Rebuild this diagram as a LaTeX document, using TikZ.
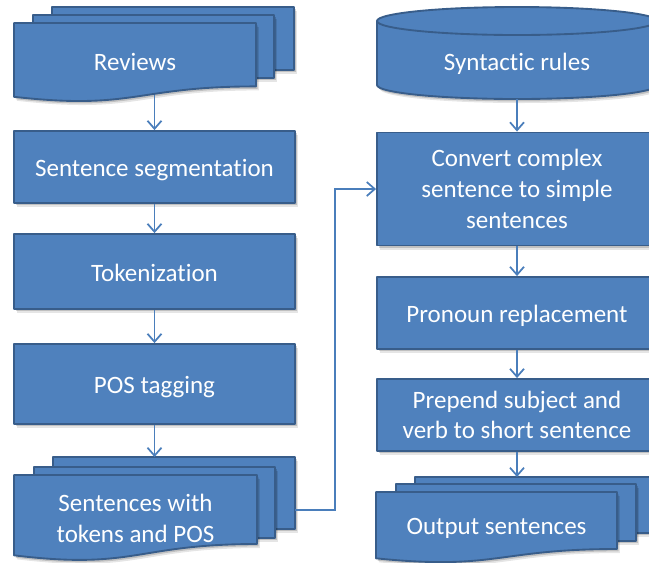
\documentclass[tikz,border=0pt]{standalone}
\usepackage{fontspec}
\setmainfont{Carlito}[Ligatures={CommonOff,ContextualOff}]
\usetikzlibrary{arrows.meta,shadows}
\definecolor{boxfill}{HTML}{4F81BD}
\definecolor{boxline}{HTML}{385D8A}
\definecolor{linkblue}{HTML}{4A7EBB}

\begin{document}
\begin{tikzpicture}[x=0.75pt,y=-0.75pt,
  softshadow/.style={
    drop shadow={shadow xshift=1.2pt,shadow yshift=-1.8pt,opacity=0.16,fill=black},
    drop shadow={shadow xshift=2.2pt,shadow yshift=-3pt,opacity=0.10,fill=black}},
  sheet/.style={draw=boxline,line width=1.4pt,fill=boxfill,line join=round,softshadow},
  rim/.style={draw=boxline,line width=1.4pt},
  txt/.style={text=white,align=center,font=\fontsize{18.75pt}{23pt}\selectfont},
  lbl/.style={txt,inner sep=0pt},
  procbox/.style={sheet,txt,inner sep=0pt},
  oneline/.style={text height=16pt,text depth=1.5pt},
  link/.style={draw=linkblue,line width=1.3pt,-{Straight Barb[length=6pt,width=10.5pt]}}]
\useasboundingbox (0,0) rectangle (649,562);
\clip (0,0) rectangle (649,562);

% input reviews (stack of documents)
\path[sheet] (52,7) rectangle (294,70);
\path[sheet] (33,15) rectangle (274,78);
\path[sheet] (14,23) -- (256,23) -- (256,86.4)
  .. controls (135,86.4) and (135,110.5) .. (14,96.8) -- cycle;
\node[lbl] (reviews) at (135,62) {Reviews};
\coordinate (reviewsout) at (154.5,95);

% rule base (cylinder)
\path[sheet] (377,21) -- (377,85)
  .. controls (377,92.7) and (439.7,99) .. (517,99)
  .. controls (594.3,99) and (657,92.7) .. (657,85) -- (657,21)
  .. controls (657,13.3) and (594.3,7) .. (517,7)
  .. controls (439.7,7) and (377,13.3) .. (377,21) -- cycle;
\draw[rim] (377,21) .. controls (377,28.7) and (439.7,35) .. (517,35)
  .. controls (594.3,35) and (657,28.7) .. (657,21);
\node[lbl] (rules) at (517,64) {Syntactic rules};
\coordinate (rulesout) at (517,99);

% preprocessing steps
\node[procbox,oneline,minimum width=210.75pt,minimum height=54pt] (seg) at (154.5,167) {Sentence segmentation};
\node[procbox,oneline,minimum width=210.75pt,minimum height=56.25pt] (tok) at (154.5,271.5) {Tokenization};
\node[procbox,oneline,minimum width=210.75pt,minimum height=60pt] (pos) at (154.5,384) {POS tagging};

% tagged sentences (stack of documents)
\path[sheet] (53,457) rectangle (295,529);
\path[sheet] (34,467) rectangle (275,538);
\path[sheet] (14,475) -- (257,475) -- (257,544)
  .. controls (135.5,544) and (135.5,570.2) .. (14,555.3) -- cycle;
\node[lbl] (sents) at (135.5,518.5) {Sentences with\\tokens and POS};
\coordinate (sentsin) at (154.5,457);
\coordinate (sentsout) at (295,510);

% simplification steps
\node[procbox,minimum width=210pt,minimum height=84.75pt] (conv) at (517,189) {Convert complex\\sentence to simple\\sentences};
\node[procbox,oneline,minimum width=210pt,minimum height=54pt] (pron) at (517,313) {Pronoun replacement};
\node[procbox,minimum width=210pt,minimum height=54pt] (prep) at (517,415) {Prepend subject and\\verb to short sentence};

% output (stack of documents)
\path[sheet] (415,477) rectangle (656,533);
\path[sheet] (396,484) rectangle (636,541);
\path[sheet] (376,492) -- (617,492) -- (617,549)
  .. controls (496.5,549) and (496.5,570.6) .. (376,558.3) -- cycle;
\node[lbl] (outs) at (496.5,528.5) {Output sentences};
\coordinate (outsin) at (517,477);

% connectors
\draw[link] (reviewsout) -- (seg.north);
\draw[link] (seg) -- (tok);
\draw[link] (tok) -- (pos);
\draw[link] (pos) -- (sentsin);
\draw[link] (sentsout) -- ++(40,0) |- (conv.west);
\draw[link] (rulesout) -- (conv.north);
\draw[link] (conv) -- (pron);
\draw[link] (pron) -- (prep);
\draw[link] (prep) -- (outsin);
\end{tikzpicture}
\end{document}
